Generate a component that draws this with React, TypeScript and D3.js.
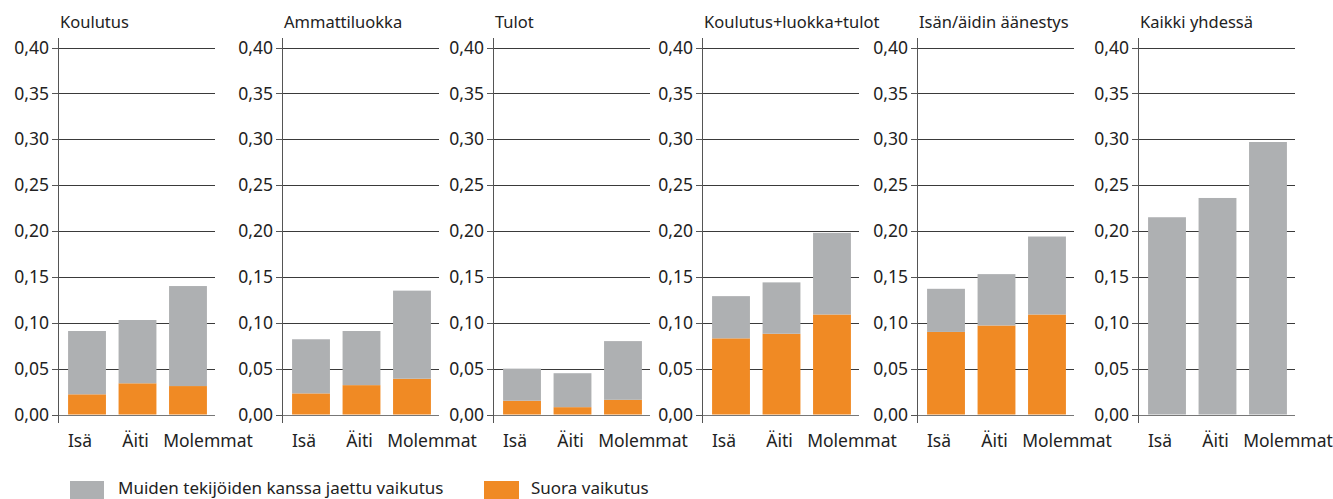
import React from 'react';
import * as d3 from 'd3';

// panel titles and categories
const panels = ['Koulutus', 'Ammattiluokka', 'Tulot', 'Koulutus+luokka+tulot', 'Isän/äidin äänestys', 'Kaikki yhdessä'];
const categories = ['Isä', 'Äiti', 'Molemmat'];
const yTicks = [0, 0.05, 0.1, 0.15, 0.2, 0.25, 0.3, 0.35, 0.4];

// series values, one row per panel (Isä, Äiti, Molemmat)
const suora = [
  [0.022, 0.034, 0.031],
  [0.023, 0.032, 0.039],
  [0.015, 0.008, 0.016],
  [0.083, 0.088, 0.109],
  [0.090, 0.097, 0.109],
  [0, 0, 0],
];
const jaettu = [
  [0.069, 0.069, 0.109],
  [0.059, 0.059, 0.096],
  [0.035, 0.037, 0.064],
  [0.046, 0.056, 0.089],
  [0.047, 0.056, 0.085],
  [0.215, 0.236, 0.297],
];

const legendItems = ['Muiden tekijöiden kanssa jaettu vaikutus', 'Suora vaikutus'];

const GRAY = '#aeb0b2';
const ORANGE = '#f08a24';
const FONT = '"Noto Sans", "Open Sans", sans-serif';

const axisX = [58, 282, 493, 702, 917, 1138];
const panelW = 157;
const yScale = d3.scaleLinear().domain([0, 0.4]).range([414.5, 47.5]);
// small nudges so category labels sit like in the original
const labelShift = [-7, -2, 20];

const fmt = (v: number) => d3.format('.2f')(v).replace('.', ',');

function Panel({ idx }: { idx: number }) {
  const x0 = axisX[idx];
  const xScale = d3
    .scaleBand<string>()
    .domain(categories)
    .range([x0 + 2, x0 + panelW])
    .paddingInner(0.25)
    .paddingOuter(0.16);

  const stackData = categories.map((c, i) => ({ cat: c, suora: suora[idx][i], jaettu: jaettu[idx][i] }));
  const series = d3.stack<any>().keys(['suora', 'jaettu'])(stackData);

  return (
    <g>
      <text x={x0 + 2} y={28} fontSize={16.5} fontFamily={FONT} fill="#222">{panels[idx]}</text>
      {/* grid */}
      {yTicks.map(t => (
        <g key={t}>
          <line x1={x0} x2={x0 + panelW} y1={Math.round(yScale(t)) + 0.5} y2={Math.round(yScale(t)) + 0.5}
            stroke={t === 0 ? '#777' : '#3a3a3a'} strokeWidth={1} />
          <line x1={x0 - 6} x2={x0} y1={Math.round(yScale(t)) + 0.5} y2={Math.round(yScale(t)) + 0.5} stroke="#555" />
          <text x={x0 - 9} y={yScale(t)} dy="0.35em" textAnchor="end" fontSize={17.5} fontFamily={FONT} fill="#222">{fmt(t)}</text>
        </g>
      ))}
      {/* bars */}
      {series.map(s => (
        <g key={s.key} fill={s.key === 'suora' ? ORANGE : GRAY}>
          {s.map((d: any, i: number) => (
            <rect key={i} x={xScale(d.data.cat)} width={xScale.bandwidth()}
              y={yScale(d[1])} height={Math.max(0, yScale(d[0]) - yScale(d[1]))} />
          ))}
        </g>
      ))}
      <line x1={x0 + 0.5} x2={x0 + 0.5} y1={38} y2={423} stroke="#555" />
      {categories.map((c, i) => (
        <text key={c} x={(xScale(c) as number) + xScale.bandwidth() / 2 + labelShift[i]} y={447}
          textAnchor="middle" fontSize={17.5} fontFamily={FONT} fill="#222">{c}</text>
      ))}
    </g>
  );
}

export default function App() {
  return (
    <svg width={1333} height={499} style={{ position: 'absolute', left: 0, top: 0, background: '#fff' }}>
      {panels.map((p, i) => <Panel key={p} idx={i} />)}
      <g>
        <rect x={70} y={481} width={34} height={18} fill={GRAY} />
        <text x={118} y={488} dy="0.35em" fontSize={17} fontFamily={FONT} fill="#222">{legendItems[0]}</text>
        <rect x={484} y={481} width={35} height={18} fill={ORANGE} />
        <text x={531} y={488} dy="0.35em" fontSize={17} fontFamily={FONT} fill="#222">{legendItems[1]}</text>
      </g>
    </svg>
  );
}
